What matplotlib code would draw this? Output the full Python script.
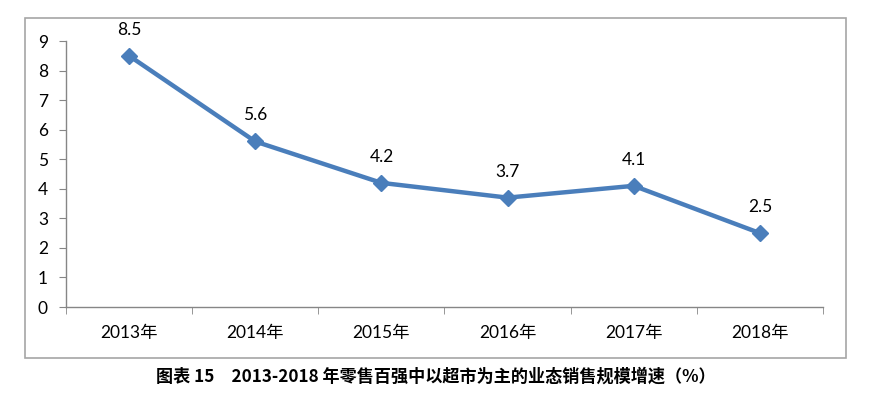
import matplotlib.pyplot as plt
from matplotlib.patches import Rectangle

years = ["2013年", "2014年", "2015年", "2016年", "2017年", "2018年"]
growth = [8.5, 5.6, 4.2, 3.7, 4.1, 2.5]
yticks = [0, 1, 2, 3, 4, 5, 6, 7, 8, 9]
caption = "图表 15　2013-2018 年零售百强中以超市为主的业态销售规模增速（%）"

plt.rcParams['font.family'] = ['Lato', 'Noto Sans CJK SC', 'DejaVu Sans']

fig = plt.figure(figsize=(8.7, 3.96), dpi=100)
W, H = 870, 396

# outer chart frame
fig.patches.append(Rectangle((25 / W, 1 - 358 / H), 821 / W, 340 / H,
                             transform=fig.transFigure, fill=False,
                             edgecolor="#a6a6a6", linewidth=1.2))

ax = fig.add_axes([66 / W, 1 - 307 / H, 757 / W, 266 / H])
x = list(range(len(years)))
ax.plot(x, growth, color="#4a7ebb", linewidth=3.2, marker="D",
        markersize=8.5, markerfacecolor="#4a7ebb", markeredgecolor="#4a7ebb")
for xi, v in zip(x, growth):
    ax.annotate(f"{v}", (xi, v), xytext=(0, 13), textcoords="offset points",
                ha="center", va="bottom", fontsize=12.5)

ax.set_xlim(-0.5, len(years) - 0.5)
ax.set_ylim(0, 9)
ax.set_yticks(yticks)
ax.set_yticklabels([str(t) for t in yticks], fontsize=12.5)
ax.set_xticks(x)
ax.set_xticklabels(years, fontsize=12.5)
ax.set_xticks([i - 0.5 for i in range(len(years) + 1)], minor=True)
ax.tick_params(axis="x", which="major", length=0, pad=13)
ax.tick_params(axis="x", which="minor", length=5, color="#868686", direction="out")
ax.tick_params(axis="y", length=5, color="#868686", direction="out", pad=8)

for side in ["top", "right"]:
    ax.spines[side].set_visible(False)
for side in ["left", "bottom"]:
    ax.spines[side].set_color("#868686")
    ax.spines[side].set_linewidth(1.0)

fig.text(436 / W, 1 - 377 / H, caption, ha="center", va="center",
         fontsize=12.3, fontweight="bold",
         family=['Noto Sans CJK SC', 'DejaVu Sans'])

fig.savefig("out.png", dpi=100)
